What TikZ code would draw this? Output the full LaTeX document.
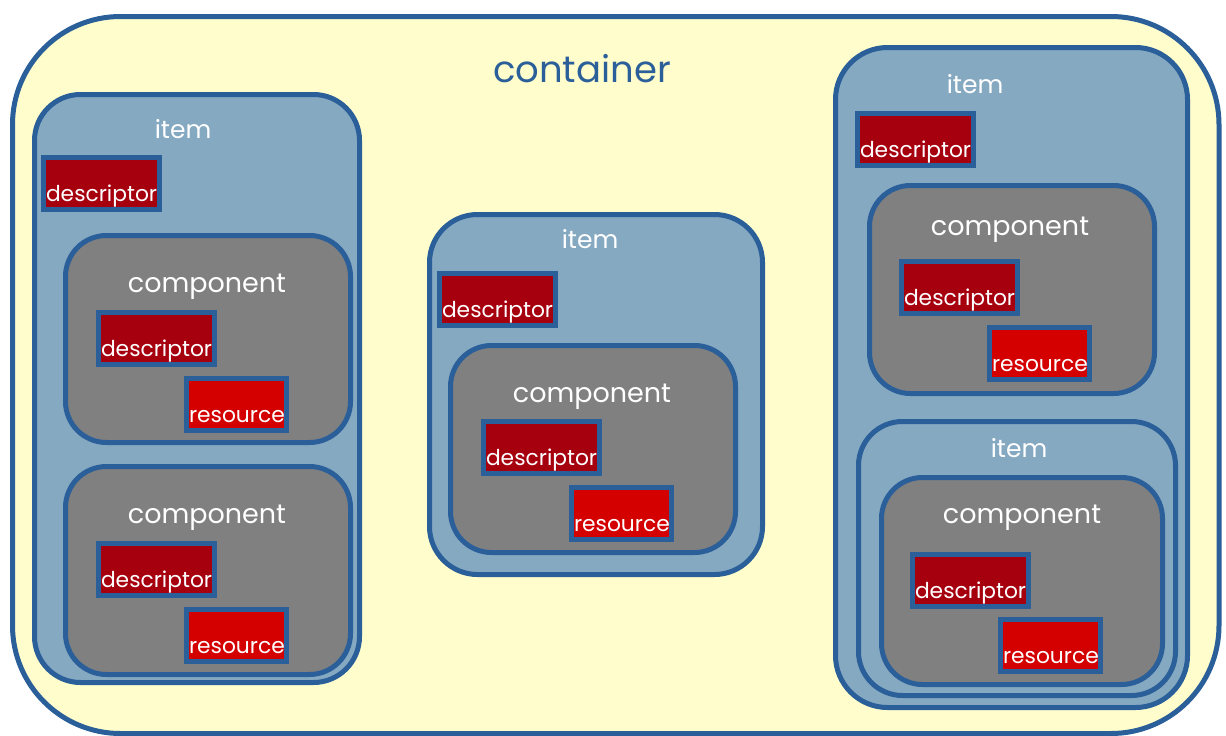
\documentclass[tikz,border=0pt]{standalone}
\usepackage{fontspec}
\setmainfont{Poppins}
\usetikzlibrary{fit}
\definecolor{bgc}{HTML}{FFFDCC}
\definecolor{blc}{HTML}{2A5F99}
\definecolor{itemc}{HTML}{86A9C2}
\definecolor{compc}{HTML}{808080}
\definecolor{descc}{HTML}{A6000F}
\definecolor{resc}{HTML}{D40000}
\begin{document}
\begin{tikzpicture}[x=1pt,y=-1pt,
  outerbox/.style={draw=blc, line width=5pt, fill=bgc, rounded corners=108pt, inner sep=0pt},
  itembox/.style={draw=blc, line width=5pt, fill=itemc, inner sep=0pt},
  compbox/.style={draw=blc, line width=5pt, fill=compc, rounded corners=41pt, inner sep=0pt},
  smallbox/.style={draw=blc, line width=5pt, anchor=north west, inner xsep=2.5pt, inner ysep=0pt,
     text height=43.5pt, text depth=8.5pt, align=left, text=white,
     font=\fontsize{21.8}{24}\selectfont},
  descbox/.style={smallbox, fill=descc, text width=111pt},
  resbox/.style={smallbox, fill=resc, text width=95pt},
  itemlbl/.style={anchor=base, text=white, inner sep=0pt, font=\fontsize{25}{27}\selectfont},
  complbl/.style={anchor=base, text=white, inner sep=0pt, font=\fontsize{27}{29}\selectfont},
]
\useasboundingbox (0,0) rectangle (1226,736);
% container
\node[outerbox, fit={(12.5,16.5) (1219,733.5)}] (cont) {};
\node[anchor=base, text=blc, inner sep=0pt, font=\fontsize{37}{39}\selectfont] (contlbl) at (582,82) {container};

% left item
\node[itembox, rounded corners=46pt, fit={(34.5,94.5) (359.5,682.5)}] (litem) {};
\node[itemlbl] (litemlbl) at (183,138) {item};
\node[descbox] (ldesc) at (41,155) {descriptor};
\node[compbox, fit={(65.5,235.5) (350.5,442.5)}] (lcomp1) {};
\node[complbl] (lcomp1lbl) at (207,292) {component};
\node[descbox] (lc1desc) at (96,310) {descriptor};
\node[resbox] (lc1res) at (184,376) {resource};
\node[compbox, fit={(65.5,466.5) (350.5,674.5)}] (lcomp2) {};
\node[complbl] (lcomp2lbl) at (207,523) {component};
\node[descbox] (lc2desc) at (96,541) {descriptor};
\node[resbox] (lc2res) at (184,607) {resource};

% middle item
\node[itembox, rounded corners=48pt, fit={(429.5,214.5) (762.5,574.5)}] (mitem) {};
\node[itemlbl] (mitemlbl) at (590,248) {item};
\node[descbox] (mdesc) at (437,271) {descriptor};
\node[compbox, fit={(450.5,345.5) (735.5,552.5)}] (mcomp) {};
\node[complbl] (mcomplbl) at (592,402) {component};
\node[descbox] (mcdesc) at (481,419) {descriptor};
\node[resbox] (mcres) at (569,485) {resource};

% right item
\node[itembox, rounded corners=52pt, fit={(835.5,47.5) (1187.5,707.5)}] (ritem) {};
\node[itemlbl] (ritemlbl) at (975,93) {item};
\node[descbox] (rdesc) at (855,111) {descriptor};
\node[compbox, fit={(869.5,185.5) (1154.5,393.5)}] (rcomp) {};
\node[complbl] (rcomplbl) at (1010,235) {component};
\node[descbox] (rcdesc) at (899,259) {descriptor};
\node[resbox] (rcres) at (987,325) {resource};
% inner item
\node[itembox, rounded corners=44pt, fit={(858.5,421.5) (1175.5,695.5)}] (riitem) {};
\node[itemlbl] (riitemlbl) at (1019,457) {item};
\node[compbox, fit={(881.5,477.5) (1162.5,684.5)}] (ricomp) {};
\node[complbl] (ricomplbl) at (1022,523) {component};
\node[descbox] (ricdesc) at (910,552) {descriptor};
\node[resbox] (ricres) at (998,617) {resource};
\end{tikzpicture}
\end{document}
